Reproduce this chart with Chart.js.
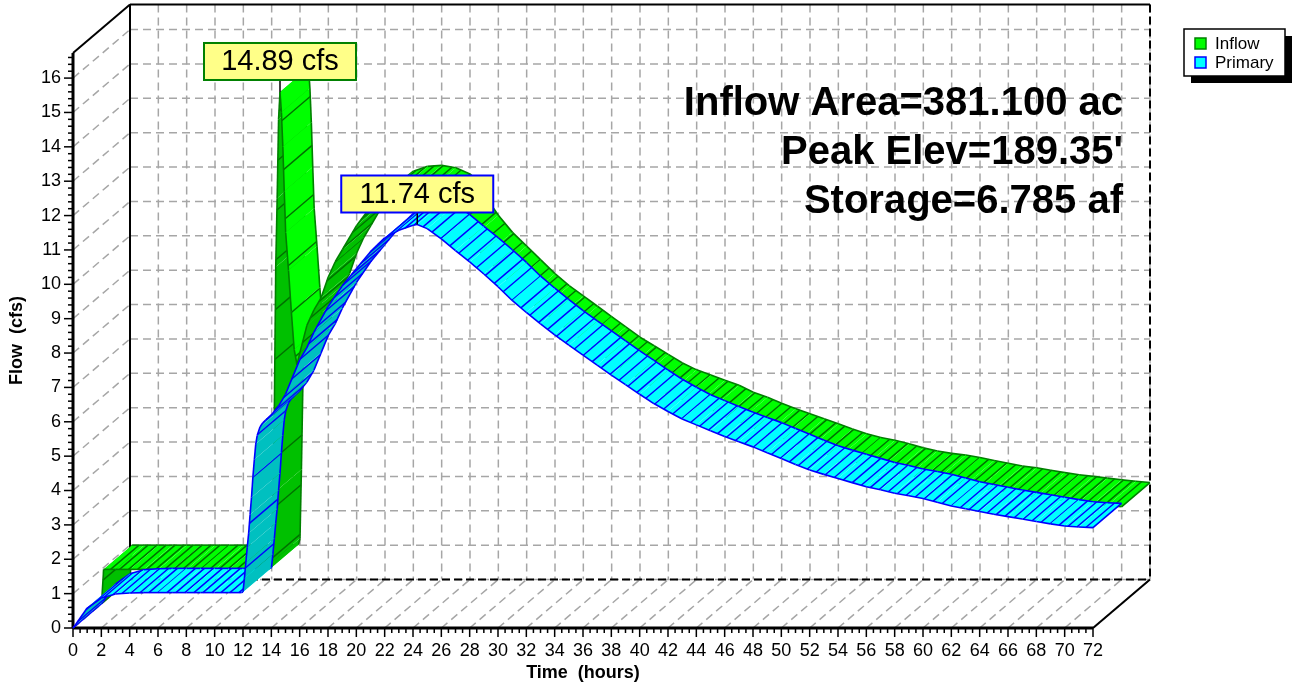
<!DOCTYPE html>
<html>
<head>
<meta charset="utf-8">
<title>Hidrograma</title>
<script src="https://cdn.jsdelivr.net/npm/chart.js@4.4.1/dist/chart.umd.min.js"></script>
<style>
    html, body { margin: 0; padding: 0; background: #fff; }
    canvas { display: block; }
</style>
</head>
<body>
<canvas id="graficoHidrograma" width="1294" height="686"></canvas>
<script>
// Datos del hidrograma (tiempo en horas, caudal en cfs)
const horas = [0, 0.15, 1, 2, 3, 4, 5, 6, 7, 8, 9, 10, 11, 11.9,
    12, 12.1, 12.2, 12.3, 12.4, 12.5, 12.6, 12.7, 12.8, 12.9, 13, 13.2, 13.4, 13.6, 13.8, 14,
    14.5, 15, 15.5, 16, 16.5, 17, 18, 19, 20, 21, 22, 23, 24, 24.3, 25,
    26, 27, 28, 29, 30, 31, 32, 33, 34, 35, 36, 37, 38, 39, 40, 41, 42, 43, 44, 45, 46, 47, 48, 49,
    50, 51, 52, 53, 54, 55, 56, 57, 58, 59, 60, 61, 62, 63, 64, 65, 66, 67, 68, 69, 70, 71, 72];

const caudalInflow = [0, 1.0, 1.0, 1.0, 1.0, 1.0, 1.0, 1.0, 1.0, 1.0, 1.0, 1.0, 1.0, 1.02,
    1.2, 3.2, 5.6, 9.8, 11.8, 14.1, 14.89, 14.3, 13.3, 12.0, 10.8, 9.7, 8.5, 7.4, 6.95, 7.3,
    8.1, 8.55, 8.9, 9.5, 9.95, 10.3, 11.0, 11.55, 11.88, 12.02, 12.05, 11.98, 11.8, 11.68, 11.2,
    10.6, 10.1, 9.7, 9.3, 8.9, 8.55, 8.25, 7.95, 7.65, 7.35, 7.05, 6.8, 6.55, 6.3, 6.1, 5.95, 5.8, 5.65, 5.45, 5.3, 5.13, 4.97, 4.82, 4.68,
    4.53, 4.38, 4.24, 4.13, 4.05, 3.95, 3.83, 3.74, 3.67, 3.62, 3.55, 3.46, 3.38, 3.3, 3.25, 3.18, 3.11, 3.05, 3.0, 2.95, 2.9, 2.86, 2.82];

const caudalPrimary = [0, 0.08, 0.58, 0.87, 0.99, 1.02, 1.03, 1.03, 1.03, 1.03, 1.03, 1.03, 1.03, 1.03,
    1.05, 1.45, 1.9, 2.35, 2.76, 3.3, 3.8, 4.4, 4.9, 5.35, 5.6, 5.85, 5.97, 6.05, 6.12, 6.2,
    6.45, 6.8, 7.3, 7.8, 8.15, 8.6, 9.35, 9.95, 10.45, 10.95, 11.35, 11.57, 11.72, 11.74, 11.62,
    11.32, 10.98, 10.65, 10.3, 9.93, 9.53, 9.18, 8.85, 8.53, 8.23, 7.94, 7.65, 7.36, 7.08, 6.8, 6.53, 6.3, 6.08, 5.91, 5.74, 5.57, 5.42, 5.27, 5.1,
    4.93, 4.76, 4.6, 4.47, 4.35, 4.23, 4.11, 4.02, 3.92, 3.85, 3.77, 3.66, 3.55, 3.47, 3.39, 3.31, 3.24, 3.17, 3.1, 3.03, 2.97, 2.94, 2.92];

const ticksFlujo = [0, 1, 2, 3, 4, 5, 6, 7, 8, 9, 10, 11, 12, 13, 14, 15, 16];
const ticksTiempo = [0, 2, 4, 6, 8, 10, 12, 14, 16, 18, 20, 22, 24, 26, 28, 30, 32, 34, 36,
    38, 40, 42, 44, 46, 48, 50, 52, 54, 56, 58, 60, 62, 64, 66, 68, 70, 72];

const textosInfo = ['Inflow Area=381.100 ac', "Peak Elev=189.35'", 'Storage=6.785 af'];

const FUENTE = 'Arial, "Liberation Sans", sans-serif';

// desplazamiento de la caja 3D (de la cara frontal a la pared del fondo)
const PROF_X = 57;
const PROF_Y = -48.5;

// estilos de cada cinta: profundidad inicial y final (0 = frente, 1 = fondo)
const series = [
    { nombre: 'Inflow', datos: caudalInflow, p0: 0.5, p1: 1, claro: '#00ff00', oscuro: '#00c000',
      rayado: '#007000', borde: '#008000', marcoEtiqueta: '#008000' },
    { nombre: 'Primary', datos: caudalPrimary, p0: 0, p1: 0.5, claro: '#00ffff', oscuro: '#00c0c0',
      rayado: '#0000ff', borde: '#0000ff', marcoEtiqueta: '#0000ff' }
];

function punto(chart, t, v, prof) {
    return [
        chart.scales.x.getPixelForValue(t) + prof * PROF_X,
        chart.scales.y.getPixelForValue(v) + prof * PROF_Y
    ];
}

function linea(ctx, x1, y1, x2, y2) {
    ctx.beginPath();
    ctx.moveTo(x1, y1);
    ctx.lineTo(x2, y2);
    ctx.stroke();
}

// Paredes, piso, grilla punteada y ejes frontales
function dibujarCaja(chart) {
    const ctx = chart.ctx;
    const area = chart.chartArea;
    const sx = chart.scales.x, sy = chart.scales.y;
    ctx.save();

    ctx.strokeStyle = '#a6a6a6';
    ctx.lineWidth = 1.5;
    ctx.setLineDash([8, 5]);
    // pared del fondo
    ticksTiempo.forEach(t => {
        const x = sx.getPixelForValue(t) + PROF_X;
        linea(ctx, x, area.top + PROF_Y, x, area.bottom + PROF_Y);
    });
    ticksFlujo.forEach(v => {
        const y = sy.getPixelForValue(v) + PROF_Y;
        linea(ctx, area.left + PROF_X, y, area.right + PROF_X, y);
    });
    // pared izquierda
    ticksFlujo.forEach(v => {
        const y = sy.getPixelForValue(v);
        linea(ctx, area.left, y, area.left + PROF_X, y + PROF_Y);
    });
    // piso
    ticksTiempo.forEach(t => {
        const x = sx.getPixelForValue(t);
        linea(ctx, x, area.bottom, x + PROF_X, area.bottom + PROF_Y);
    });

    // bordes de la caja
    ctx.strokeStyle = '#000';
    ctx.lineWidth = 2;
    ctx.setLineDash([8, 4]);
    linea(ctx, area.left + PROF_X, area.bottom + PROF_Y, area.right + PROF_X, area.bottom + PROF_Y);
    linea(ctx, area.right + PROF_X, area.top + PROF_Y, area.right + PROF_X, area.bottom + PROF_Y);
    ctx.setLineDash([]);
    linea(ctx, area.left + PROF_X, area.top + PROF_Y, area.right + PROF_X, area.top + PROF_Y);
    linea(ctx, area.left + PROF_X, area.top + PROF_Y, area.left + PROF_X, area.bottom + PROF_Y);
    linea(ctx, area.left, area.top, area.left + PROF_X, area.top + PROF_Y);
    linea(ctx, area.right, area.bottom, area.right + PROF_X, area.bottom + PROF_Y);

    // ejes frontales gruesos con marcas
    ctx.lineWidth = 3;
    linea(ctx, area.left, area.bottom, area.left, area.top);
    linea(ctx, area.left, area.bottom, area.right, area.bottom);
    ctx.lineWidth = 1.5;
    for (let v = 0; v <= sy.max + 0.001; v += 0.2) {
        const y = sy.getPixelForValue(v);
        const mayor = Math.abs(v - Math.round(v)) < 0.01;
        linea(ctx, area.left - (mayor ? 9 : 5), y, area.left, y);
    }
    for (let t = 0; t <= sx.max + 0.001; t += 0.5) {
        const x = sx.getPixelForValue(t);
        const mayor = Math.abs(t / 2 - Math.round(t / 2)) < 0.01;
        linea(ctx, x, area.bottom, x, area.bottom + (mayor ? 9 : 5));
    }
    ctx.restore();
}

// Cinta 3D de una serie: un cuadrilátero por tramo, rayado en la dirección de la profundidad
function dibujarCinta(chart, serie) {
    const ctx = chart.ctx;
    const paso = 9;
    let resto = paso * 0.5;
    ctx.save();
    ctx.lineJoin = 'round';
    for (let i = 0; i < horas.length - 1; i++) {
        const a = punto(chart, horas[i], serie.datos[i], serie.p0);
        const b = punto(chart, horas[i + 1], serie.datos[i + 1], serie.p0);
        const c = punto(chart, horas[i + 1], serie.datos[i + 1], serie.p1);
        const d = punto(chart, horas[i], serie.datos[i], serie.p1);
        const cruz = (b[0] - a[0]) * (d[1] - a[1]) - (b[1] - a[1]) * (d[0] - a[0]);

        ctx.beginPath();
        ctx.moveTo(a[0], a[1]);
        ctx.lineTo(b[0], b[1]);
        ctx.lineTo(c[0], c[1]);
        ctx.lineTo(d[0], d[1]);
        ctx.closePath();
        ctx.fillStyle = cruz < 0 ? serie.claro : serie.oscuro;
        ctx.fill();

        // rayas
        const largo = Math.hypot(b[0] - a[0], (b[1] - a[1]) * 0.18);
        ctx.strokeStyle = serie.rayado;
        ctx.lineWidth = 1.4;
        let pos = paso - resto;
        while (pos <= largo) {
            const f = pos / largo;
            linea(ctx, a[0] + (b[0] - a[0]) * f, a[1] + (b[1] - a[1]) * f,
                d[0] + (c[0] - d[0]) * f, d[1] + (c[1] - d[1]) * f);
            pos += paso;
        }
        resto = largo - (pos - paso);

        ctx.strokeStyle = serie.borde;
        ctx.lineWidth = 1.6;
        linea(ctx, a[0], a[1], b[0], b[1]);
        linea(ctx, d[0], d[1], c[0], c[1]);
        if (i === 0) linea(ctx, a[0], a[1], d[0], d[1]);
        if (i === horas.length - 2) linea(ctx, b[0], b[1], c[0], c[1]);
    }
    ctx.restore();
}

// Etiqueta amarilla con el caudal pico de la serie
function dibujarPico(chart, serie) {
    const ctx = chart.ctx;
    let iMax = 0;
    serie.datos.forEach((v, i) => { if (v > serie.datos[iMax]) iMax = i; });
    const p = punto(chart, horas[iMax], serie.datos[iMax], serie.p0);
    const ancho = 152, alto = 37;
    const x0 = p[0] - ancho / 2;
    const y0 = p[1] - 12 - alto;
    ctx.save();
    ctx.strokeStyle = '#000';
    ctx.lineWidth = 1.5;
    linea(ctx, p[0], y0 + alto, p[0], p[1]);
    ctx.fillStyle = '#ffff88';
    ctx.fillRect(x0, y0, ancho, alto);
    ctx.strokeStyle = serie.marcoEtiqueta;
    ctx.lineWidth = 2;
    ctx.strokeRect(x0, y0, ancho, alto);
    ctx.fillStyle = '#000';
    ctx.font = '29px ' + FUENTE;
    ctx.textAlign = 'center';
    ctx.textBaseline = 'middle';
    ctx.fillText(serie.datos[iMax].toFixed(2) + ' cfs', p[0], y0 + alto / 2 + 1);
    ctx.restore();
}

function dibujarTextos(chart) {
    const ctx = chart.ctx;
    ctx.save();
    ctx.fillStyle = '#000';
    ctx.font = 'bold 40px ' + FUENTE;
    ctx.textAlign = 'right';
    ctx.textBaseline = 'alphabetic';
    textosInfo.forEach((txt, i) => ctx.fillText(txt, 1123, 115 + i * 49));

    // leyenda con sombra
    const lx = 1184, ly = 29, lw = 101, lh = 47;
    ctx.fillStyle = '#000';
    ctx.fillRect(lx + 7, ly + 7, lw, lh);
    ctx.fillStyle = '#fff';
    ctx.fillRect(lx, ly, lw, lh);
    ctx.strokeStyle = '#000';
    ctx.lineWidth = 1.5;
    ctx.strokeRect(lx, ly, lw, lh);
    ctx.font = '17px ' + FUENTE;
    ctx.textAlign = 'left';
    series.forEach((s, i) => {
        const y = ly + 9 + i * 19;
        ctx.fillStyle = s.claro;
        ctx.fillRect(lx + 11, y, 11, 11);
        ctx.strokeStyle = s.borde;
        ctx.lineWidth = 1.5;
        ctx.strokeRect(lx + 11, y, 11, 11);
        ctx.fillStyle = '#000';
        ctx.fillText(s.nombre, lx + 31, y + 11);
    });
    ctx.restore();
}

const pluginCaja3D = {
    id: 'caja3d',
    beforeDatasetsDraw(chart) {
        dibujarCaja(chart);
    },
    afterDatasetsDraw(chart) {
        series.forEach(s => dibujarCinta(chart, s));
        series.forEach(s => dibujarPico(chart, s));
        dibujarTextos(chart);
    }
};

document.addEventListener('DOMContentLoaded', () => {
    const ctx = document.getElementById('graficoHidrograma').getContext('2d');
    new Chart(ctx, {
        type: 'scatter',
        data: {
            datasets: series.map(s => ({
                label: s.nombre,
                data: horas.map((t, i) => ({ x: t, y: s.datos[i] })),
                pointRadius: 0,
                showLine: false
            }))
        },
        options: {
            responsive: false,
            animation: false,
            devicePixelRatio: 1,
            layout: { padding: { left: 0, top: 53, right: 201, bottom: 0 } },
            plugins: { legend: { display: false }, tooltip: { enabled: false } },
            scales: {
                x: {
                    type: 'linear', min: 0, max: 72,
                    grid: { display: false }, border: { display: false },
                    ticks: { autoSkip: false, maxRotation: 0, padding: 4, color: '#000',
                        font: { family: FUENTE, size: 18 } },
                    title: { display: true, text: 'Time  (hours)', color: '#000',
                        font: { family: FUENTE, size: 18, weight: 'bold' }, padding: { top: 0, bottom: 2 } },
                    afterBuildTicks: escala => { escala.ticks = ticksTiempo.map(v => ({ value: v })); },
                    afterFit: escala => { escala.height = 58; }
                },
                y: {
                    type: 'linear', min: 0, max: 16.73,
                    grid: { display: false }, border: { display: false },
                    ticks: { padding: 4, color: '#000', font: { family: FUENTE, size: 18 } },
                    title: { display: true, text: 'Flow  (cfs)', color: '#000',
                        font: { family: FUENTE, size: 18, weight: 'bold' }, padding: { top: 6, bottom: 0 } },
                    afterBuildTicks: escala => { escala.ticks = ticksFlujo.map(v => ({ value: v })); },
                    afterFit: escala => { escala.width = 73; }
                }
            }
        },
        plugins: [pluginCaja3D]
    });
});
</script>
</body>
</html>
